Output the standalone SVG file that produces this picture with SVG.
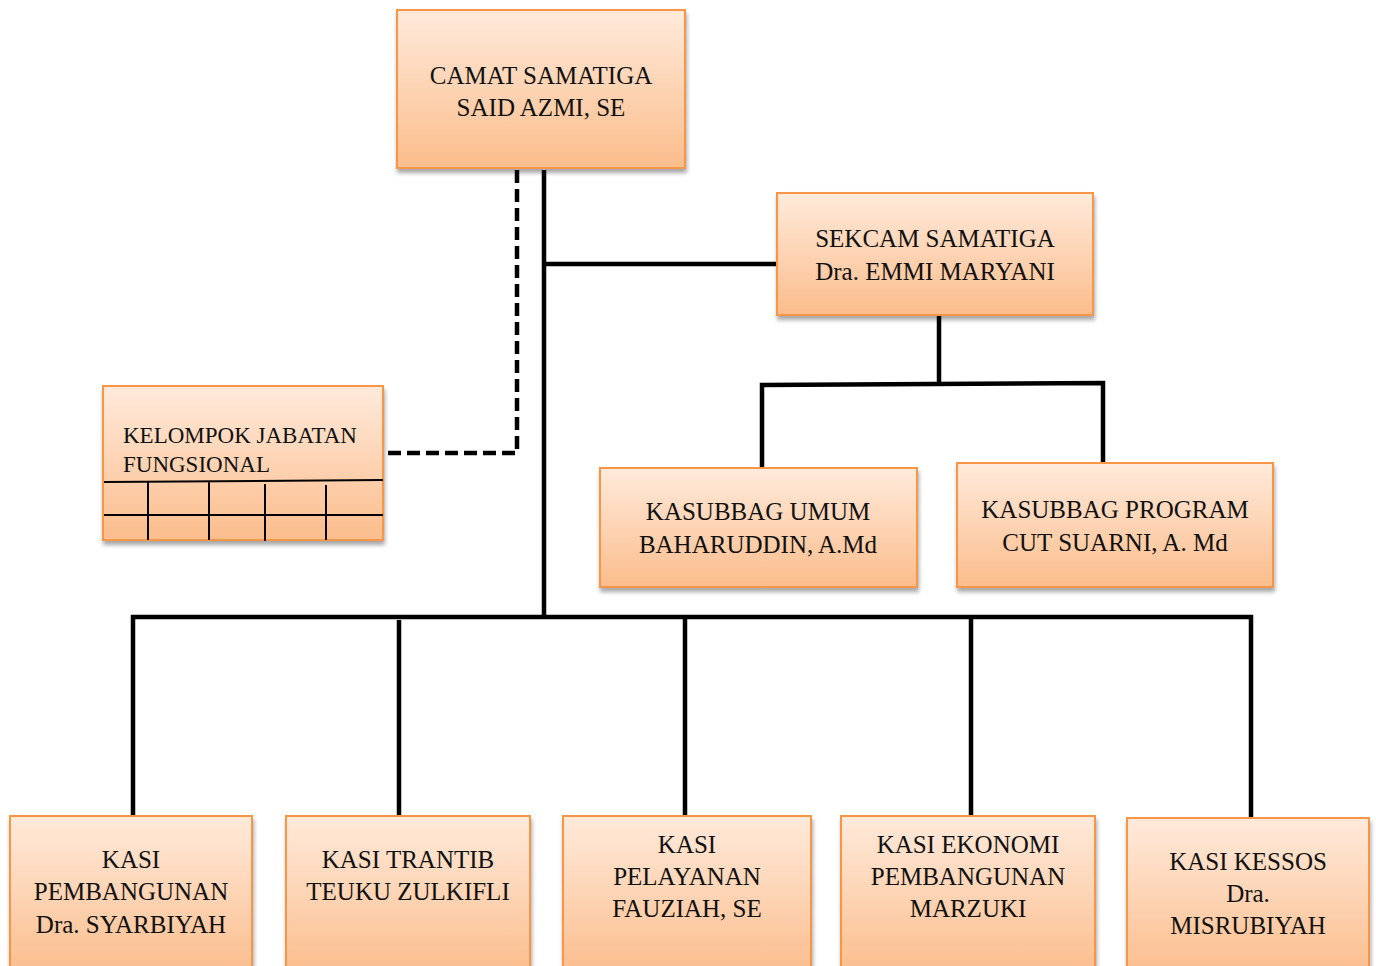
<svg xmlns="http://www.w3.org/2000/svg" width="1376" height="966" viewBox="0 0 1376 966">
<defs>
<linearGradient id="g" x1="0" y1="0" x2="0" y2="1">
<stop offset="0" stop-color="#FFEADB"/>
<stop offset="1" stop-color="#FBBD8C"/>
</linearGradient>
<filter id="sh" x="-10%" y="-10%" width="120%" height="130%">
<feGaussianBlur in="SourceAlpha" stdDeviation="2"/>
<feOffset dx="1" dy="4" result="b"/>
<feComponentTransfer><feFuncA type="linear" slope="0.35"/></feComponentTransfer>
<feMerge><feMergeNode/><feMergeNode in="SourceGraphic"/></feMerge>
</filter>
</defs>
<style>
.box{fill:url(#g);stroke:#F79646;stroke-width:2;filter:url(#sh)}
.t{font-family:"Liberation Serif",serif;font-size:25px;fill:#111;text-anchor:middle}
.tl{font-family:"Liberation Serif",serif;font-size:23px;fill:#111}
.ln{stroke:#000;stroke-width:4.5;fill:none}
.dash{stroke:#000;stroke-width:4.5;fill:none;stroke-dasharray:13 6}
.grid{stroke:#000;stroke-width:2;fill:none}
</style>
<rect width="1376" height="966" fill="#fff"/>
<g id="connectors">
<path class="dash" d="M517 170 V453 H383"/>
<path class="ln" d="M544 170 V617"/>
<path class="ln" d="M544 264 H779"/>
<path class="ln" d="M939 315 V384"/>
<path class="ln" d="M762 468 V385 L1103 383 V464"/>
<path class="ln" d="M133 817 V617 H1251 V818"/>
<path class="ln" d="M399 620 V817"/>
<path class="ln" d="M685 617 V817"/>
<path class="ln" d="M971 617 V817"/>
</g>
<g id="camat">
<rect class="box" x="397" y="10" width="288" height="158"/>
<text class="t" x="541" y="84">CAMAT SAMATIGA</text>
<text class="t" x="541" y="116">SAID AZMI, SE</text>
</g>
<g id="sekcam">
<rect class="box" x="777" y="193" width="316" height="122"/>
<text class="t" x="935" y="247">SEKCAM SAMATIGA</text>
<text class="t" x="935" y="280">Dra. EMMI MARYANI</text>
</g>
<g id="kelompok">
<rect class="box" x="103" y="386" width="280" height="154"/>
<text class="tl" x="123" y="443">KELOMPOK JABATAN</text>
<text class="tl" x="123" y="472">FUNGSIONAL</text>
<path class="grid" d="M104 482 L383 480 M104 515 H383 M148 482 V540 M209 482 V540 M265 484 V541 M326 485 V540"/>
</g>
<g id="kasubbag-umum">
<rect class="box" x="600" y="468" width="317" height="119"/>
<text class="t" x="758" y="520">KASUBBAG UMUM</text>
<text class="t" x="758" y="553">BAHARUDDIN, A.Md</text>
</g>
<g id="kasubbag-program">
<rect class="box" x="957" y="463" width="316" height="124"/>
<text class="t" x="1115" y="518">KASUBBAG PROGRAM</text>
<text class="t" x="1115" y="551">CUT SUARNI, A. Md</text>
</g>
<g id="kasi-pembangunan">
<rect class="box" x="10" y="816" width="242" height="160"/>
<text class="t" x="131" y="868">KASI</text>
<text class="t" x="131" y="900">PEMBANGUNAN</text>
<text class="t" x="131" y="933">Dra. SYARBIYAH</text>
</g>
<g id="kasi-trantib">
<rect class="box" x="286" y="816" width="244" height="160"/>
<text class="t" x="408" y="868">KASI TRANTIB</text>
<text class="t" x="408" y="900">TEUKU ZULKIFLI</text>
</g>
<g id="kasi-pelayanan">
<rect class="box" x="563" y="816" width="248" height="160"/>
<text class="t" x="687" y="853">KASI</text>
<text class="t" x="687" y="885">PELAYANAN</text>
<text class="t" x="687" y="917">FAUZIAH, SE</text>
</g>
<g id="kasi-ekonomi">
<rect class="box" x="841" y="816" width="254" height="160"/>
<text class="t" x="968" y="853">KASI EKONOMI</text>
<text class="t" x="968" y="885">PEMBANGUNAN</text>
<text class="t" x="968" y="917">MARZUKI</text>
</g>
<g id="kasi-kessos">
<rect class="box" x="1127" y="818" width="242" height="160"/>
<text class="t" x="1248" y="870">KASI KESSOS</text>
<text class="t" x="1248" y="902">Dra.</text>
<text class="t" x="1248" y="934">MISRUBIYAH</text>
</g>
</svg>
